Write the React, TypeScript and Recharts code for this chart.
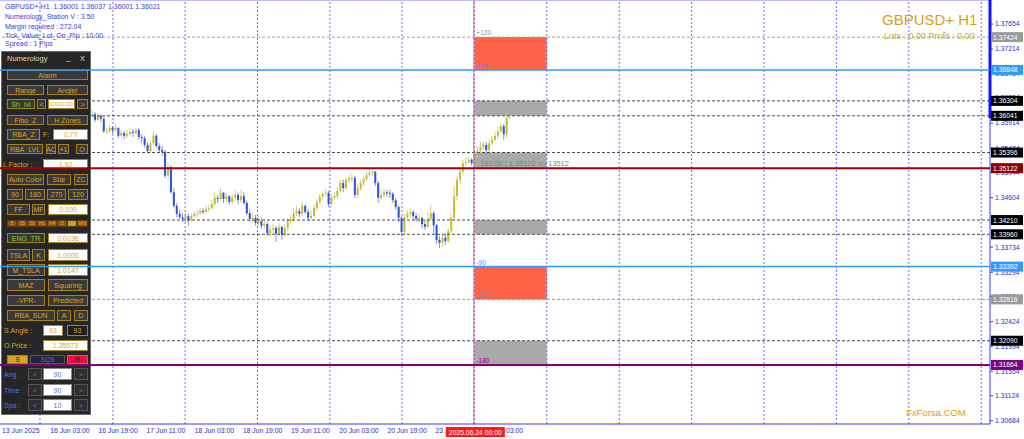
import React from "react";
import {
  ComposedChart,
  Bar,
  XAxis,
  YAxis,
  ReferenceLine,
  ReferenceArea,
  ReferenceDot,
} from "recharts";

const W = 1024;
const H = 439;
const FONT = "'Liberation Sans', Arial, sans-serif";

// x is a bar index (H1 bars), bar 0 = first bar on the left edge
const X_MIN = -0.7;
const X_MAX = 338.4;
const Y_MIN = 1.30627;
const Y_MAX = 1.38076;

// bars left of this one are hidden under the panel
const FIRST_BAR = 31;
const FIRST_OPEN = 1.3604;

const closes = [
  1.3607, 1.3597, 1.3604, 1.3599, 1.3577, 1.3577, 1.3583, 1.3579, 1.3583, 1.3569,
  1.3574, 1.3569, 1.3572, 1.3576, 1.3574, 1.3579, 1.3567, 1.3565, 1.3553, 1.3542,
  1.3556, 1.3569, 1.3551, 1.3544, 1.3541, 1.3499, 1.3514, 1.347, 1.3446, 1.3432,
  1.3426, 1.3423, 1.3428, 1.3421, 1.3428, 1.3432, 1.3433, 1.3437, 1.3435, 1.344,
  1.3442, 1.3449, 1.346, 1.3458, 1.3469, 1.3458, 1.3463, 1.3453, 1.346, 1.3465,
  1.3456, 1.3463, 1.3451, 1.3433, 1.3423, 1.3425, 1.3416, 1.3419, 1.3411, 1.3414,
  1.3398, 1.3404, 1.3407, 1.3397, 1.3409, 1.3395, 1.3407, 1.3419, 1.3423, 1.3433,
  1.3437, 1.3432, 1.3446, 1.3435, 1.3425, 1.3428, 1.3442, 1.3453, 1.3462, 1.3467,
  1.3469, 1.3449, 1.346, 1.3463, 1.3472, 1.3486, 1.3477, 1.3492, 1.3495, 1.3495,
  1.3465, 1.3477, 1.3486, 1.3493, 1.35, 1.3504, 1.3506, 1.3486, 1.346, 1.3465,
  1.347, 1.3469, 1.3467, 1.3456, 1.3444, 1.3425, 1.34, 1.3426, 1.3432, 1.3435,
  1.3428, 1.3423, 1.3425, 1.3414, 1.3409, 1.3423, 1.3433, 1.3412, 1.3386, 1.3381,
  1.339, 1.3384, 1.3402, 1.3425, 1.3463, 1.3492, 1.3506, 1.3521, 1.3523, 1.3527,
  1.3521, 1.3535, 1.3542, 1.3549, 1.3553, 1.3544, 1.3556, 1.3562, 1.3569, 1.3577,
  1.3586, 1.3572, 1.36, 1.36021,
];

const highs = [
  1.3614, 1.3611, 1.3609, 1.3607, 1.3602, 1.3584, 1.3588, 1.3586, 1.359, 1.3584,
  1.3579, 1.3577, 1.3579, 1.3583, 1.3581, 1.3584, 1.3583, 1.3572, 1.3569, 1.3558,
  1.3562, 1.3577, 1.3572, 1.3556, 1.3551, 1.3544, 1.3521, 1.3518, 1.3477, 1.3451,
  1.3439, 1.3433, 1.3433, 1.3432, 1.3433, 1.3437, 1.3439, 1.3442, 1.3442, 1.3446,
  1.3448, 1.3456, 1.3469, 1.3465, 1.3477, 1.347, 1.3469, 1.3465, 1.3467, 1.3474,
  1.347, 1.3474, 1.347, 1.3455, 1.3439, 1.3433, 1.343, 1.3428, 1.3425, 1.3423,
  1.3418, 1.3411, 1.3414, 1.3411, 1.3416, 1.3411, 1.3414, 1.3425, 1.343, 1.3442,
  1.3446, 1.3442, 1.3453, 1.3448, 1.344, 1.3437, 1.3448, 1.3458, 1.3467, 1.3472,
  1.3476, 1.3472, 1.3465, 1.347, 1.3479, 1.3492, 1.3492, 1.3497, 1.35, 1.3504,
  1.3499, 1.3484, 1.3492, 1.3499, 1.3506, 1.3513, 1.3509, 1.3507, 1.349, 1.3472,
  1.3476, 1.3474, 1.3474, 1.347, 1.346, 1.3446, 1.3428, 1.3432, 1.3439, 1.3442,
  1.3439, 1.3433, 1.3432, 1.3426, 1.3421, 1.3435, 1.3448, 1.3437, 1.3414, 1.3393,
  1.3395, 1.3397, 1.3407, 1.3432, 1.3481, 1.3499, 1.3513, 1.3527, 1.3532, 1.3532,
  1.353, 1.3544, 1.3551, 1.3558, 1.356, 1.3558, 1.3562, 1.3569, 1.3576, 1.3584,
  1.3593, 1.359, 1.3604, 1.36037,
];

const lows = [
  1.36, 1.3593, 1.3595, 1.3593, 1.3574, 1.3572, 1.3574, 1.3572, 1.3576, 1.3565,
  1.3567, 1.3563, 1.3565, 1.3569, 1.3567, 1.357, 1.3563, 1.3556, 1.3548, 1.3539,
  1.3539, 1.3553, 1.3548, 1.3539, 1.3534, 1.3495, 1.3493, 1.3467, 1.3442, 1.3426,
  1.3423, 1.3418, 1.3414, 1.3411, 1.3418, 1.3425, 1.3426, 1.343, 1.3432, 1.3432,
  1.3435, 1.3439, 1.3446, 1.3451, 1.3455, 1.3451, 1.3453, 1.3448, 1.3448, 1.3453,
  1.3449, 1.3451, 1.3448, 1.343, 1.3418, 1.3418, 1.3411, 1.3412, 1.3405, 1.3405,
  1.3393, 1.3393, 1.3398, 1.3383, 1.3393, 1.3386, 1.339, 1.3402, 1.3414, 1.3418,
  1.3428, 1.3426, 1.3428, 1.3432, 1.3419, 1.3421, 1.3425, 1.3437, 1.3449, 1.3456,
  1.3462, 1.3444, 1.3446, 1.3455, 1.3458, 1.3469, 1.347, 1.3474, 1.3486, 1.3488,
  1.346, 1.346, 1.3472, 1.3481, 1.349, 1.3497, 1.3499, 1.3481, 1.3451, 1.3456,
  1.346, 1.3462, 1.346, 1.3451, 1.3439, 1.3418, 1.3393, 1.3397, 1.3423, 1.3426,
  1.3421, 1.3418, 1.3418, 1.3407, 1.3404, 1.3407, 1.3419, 1.3397, 1.3379, 1.3372,
  1.3374, 1.3377, 1.3381, 1.3398, 1.3421, 1.3456, 1.3484, 1.35, 1.3516, 1.352,
  1.3516, 1.3514, 1.353, 1.3539, 1.3544, 1.3535, 1.3541, 1.3553, 1.356, 1.3563,
  1.3574, 1.3562, 1.3565, 1.36001,
];

// label positions on the bar scale
const timeTicks = [0, 16.5, 33, 49.5, 66, 82.5, 99, 115.5, 132, 148.5, 165];
const timeLabels = [
  "13 Jun 2025",
  "16 Jun 03:00",
  "16 Jun 19:00",
  "17 Jun 11:00",
  "18 Jun 03:00",
  "18 Jun 19:00",
  "19 Jun 11:00",
  "20 Jun 03:00",
  "20 Jun 19:00",
  "23 Jun 11:00",
  "24 Jun 03:00",
];

const priceTicks = [
  1.37654, 1.37214, 1.36784, 1.36354, 1.35914, 1.35474, 1.35044, 1.34604, 1.34174,
  1.33734, 1.33294, 1.32864, 1.32424, 1.31994, 1.31554, 1.31124, 1.30684,
];

const gridBars = [13, 38, 62.7, 87.5, 112.3, 137, 161.8, 186.6, 211.4, 236.2, 261, 285.8, 310.6, 335.4];

const MARK_BAR = 161.6;
const MARK_LABEL = "2025.06.24 00:00";
const ZONE_FROM = 161.8;
const ZONE_TO = 186.6;

const darkLevels = [1.36304, 1.36041, 1.35396, 1.3421, 1.3396, 1.3209];
const grayLevels = [1.37424, 1.32816];
const blueLevels = [1.36848, 1.33392];
const redLevel = 1.35122;
const purpleLevel = 1.31664;

const redZones = [
  [1.37424, 1.36848],
  [1.33392, 1.32816],
];
const grayZones = [
  [1.36304, 1.36041],
  [1.35396, 1.35122],
  [1.3421, 1.3396],
  [1.3209, 1.31664],
];

const zoneTags: [string, number, string][] = [
  ["+120", 1.37424, "#8c8c8c"],
  ["+90", 1.36848, "#3399ff"],
  ["-90", 1.33392, "#3399ff"],
  ["-120", 1.32816, "#8c8c8c"],
  ["-180", 1.31664, "#800080"],
];
const zoneInfo = "192.00 | 1.35122 >> 13512";

const infoLines = [
  "GBPUSD+,H1  1.36001 1.36037 1.36001 1.36021",
  "Numerology_Station V : 3.50",
  "Margin required : 272.04",
  "Tick_Value_Lot_On_Pip : 10.00",
  "Spread : 1 Pips",
];

const candles = closes.map((close, k) => ({
  bar: FIRST_BAR + k,
  open: k === 0 ? FIRST_OPEN : closes[k - 1],
  high: highs[k],
  low: lows[k],
  close,
}));

const AXIS_BLUE = "#3b3bff";
const TEXT_BLUE = "#2b2bd6";

function Candle(props: any) {
  const { x, y, width, height, payload } = props;
  if (!payload) return null;
  const { open, close, high, low } = payload;
  const up = close >= open;
  const k = height / (high - low);
  const top = y + (high - Math.max(open, close)) * k;
  const bot = y + (high - Math.min(open, close)) * k;
  const cx = x + width / 2;
  return (
    <g>
      <line x1={cx} x2={cx} y1={y} y2={y + height} stroke={up ? "#d2cb86" : "#8b8bea"} strokeWidth={1} />
      <rect x={x} y={top} width={width} height={Math.max(bot - top, 1)} fill={up ? "#c4bd2b" : "#2356d8"} />
    </g>
  );
}

function TimeTick(props: any) {
  const { x, y, payload } = props;
  const i = timeTicks.indexOf(payload.value);
  return (
    <text x={x} y={y + 5} fontSize={6.8} fontFamily={FONT} fill={TEXT_BLUE} textAnchor="start">
      {timeLabels[i]}
    </text>
  );
}

function PriceTag(props: any) {
  const { viewBox, bg, price } = props;
  if (!viewBox) return null;
  const x = viewBox.x + viewBox.width + 1;
  const y = viewBox.y;
  return (
    <g>
      <rect x={x} y={y - 5} width={32} height={10} fill={bg} />
      <text x={x + 2} y={y + 2.5} fontSize={6.8} fontFamily={FONT} fill="#ffffff">
        {price.toFixed(5)}
      </text>
    </g>
  );
}

function TimeTag(props: any) {
  const { viewBox } = props;
  if (!viewBox) return null;
  const x = viewBox.x;
  const y = viewBox.y + viewBox.height + 3;
  return (
    <g>
      <rect x={x - 28} y={y} width={59} height={10} fill="#ff1a1a" />
      <text x={x + 1.5} y={y + 7.5} fontSize={6.8} fontFamily={FONT} fill="#ffffff" textAnchor="middle">
        {MARK_LABEL}
      </text>
    </g>
  );
}

function ZoneText(props: any) {
  const { viewBox, text, color, size } = props;
  if (!viewBox) return null;
  return (
    <text x={viewBox.x + 2} y={viewBox.y - 2} fontSize={size || 6.5} fontFamily={FONT} fill={color}>
      {text}
    </text>
  );
}

function axes(show: boolean) {
  return [
    <XAxis
      key="x"
      type="number"
      dataKey="bar"
      domain={[X_MIN, X_MAX]}
      allowDataOverflow
      ticks={timeTicks}
      interval={0}
      height={15}
      tickSize={2}
      axisLine={show ? { stroke: AXIS_BLUE } : false}
      tickLine={false}
      tick={show ? <TimeTick /> : false}
    />,
    <YAxis
      key="y"
      orientation="right"
      type="number"
      domain={[Y_MIN, Y_MAX]}
      allowDataOverflow
      ticks={priceTicks}
      interval={0}
      width={34}
      tickSize={3}
      axisLine={show ? { stroke: AXIS_BLUE } : false}
      tickLine={show ? { stroke: AXIS_BLUE } : false}
      tick={show ? { fontSize: 6.8, fill: TEXT_BLUE, fontFamily: FONT } : false}
      tickFormatter={(v: number) => v.toFixed(5)}
    />,
  ];
}

const MARGIN = { top: 0, right: 0, bottom: 0, left: 0 };

function BaseChart() {
  return (
    <ComposedChart width={W} height={H} data={candles} margin={MARGIN}>
      {axes(true)}
      {gridBars.map((b) => (
        <ReferenceLine key={"g" + b} x={b} stroke="#6a6aff" strokeDasharray="2 2" />
      ))}
      {redZones.map(([a, b]) => (
        <ReferenceArea key={"r" + a} x1={ZONE_FROM} x2={ZONE_TO} y1={b} y2={a} fill="#ff6347" fillOpacity={1} stroke="none" />
      ))}
      {grayZones.map(([a, b]) => (
        <ReferenceArea key={"z" + a} x1={ZONE_FROM} x2={ZONE_TO} y1={b} y2={a} fill="#a9a9a9" fillOpacity={1} stroke="none" />
      ))}
      {darkLevels.map((p) => (
        <ReferenceLine key={"d" + p} y={p} stroke="#4a4a4a" strokeDasharray="3 2" />
      ))}
      {grayLevels.map((p) => (
        <ReferenceLine key={"l" + p} y={p} stroke="#a0a0a0" strokeDasharray="3 2" />
      ))}
      <ReferenceLine x={MARK_BAR} stroke="#ff5c5c" strokeWidth={1} />
      <ReferenceLine y={Y_MAX} stroke="#8080ff" />
      {zoneTags.map(([t, p, c]) => (
        <ReferenceDot key={t} x={ZONE_FROM} y={p} r={0} fill="none" stroke="none" label={<ZoneText text={t} color={c} />} />
      ))}
      <ReferenceDot
        x={ZONE_FROM + 1.3}
        y={redLevel}
        r={0}
        fill="none"
        stroke="none"
        label={<ZoneText text={zoneInfo} color="#5f9a5f" size={7.4} />}
      />
      <Bar
        dataKey={(d: any) => [d.low, d.high]}
        barSize={2}
        shape={<Candle />}
        isAnimationActive={false}
      />
    </ComposedChart>
  );
}

function OverlayChart() {
  return (
    <ComposedChart width={W} height={H} data={candles} margin={MARGIN}>
      {axes(false)}
      <ReferenceLine
        segment={[
          { x: X_MAX, y: Y_MAX },
          { x: X_MAX, y: 1.36 },
        ]}
        stroke="#1414ff"
        strokeWidth={3}
      />
      {blueLevels.map((p) => (
        <ReferenceLine key={"b" + p} y={p} stroke="#3399ff" strokeWidth={1.5} label={<PriceTag bg="#3399ff" price={p} />} />
      ))}
      <ReferenceLine y={redLevel} stroke="#a00000" strokeWidth={2} label={<PriceTag bg="#8b0000" price={redLevel} />} />
      <ReferenceLine y={purpleLevel} stroke="#800080" strokeWidth={2} label={<PriceTag bg="#800080" price={purpleLevel} />} />
      {darkLevels.map((p) => (
        <ReferenceLine key={"dt" + p} y={p} stroke="none" label={<PriceTag bg="#000000" price={p} />} />
      ))}
      {grayLevels.map((p) => (
        <ReferenceLine key={"gt" + p} y={p} stroke="none" label={<PriceTag bg="#9a9a9a" price={p} />} />
      ))}
      <ReferenceLine x={MARK_BAR} stroke="none" label={<TimeTag />} />
    </ComposedChart>
  );
}

type Cell = [number, number, string, string];
const panelRows: [number, number, Cell[]][] = [
  [70, 10, [[7, 81, "Alarm", "btn"]]],
  [85, 10, [[7, 37, "Range", "btn"], [47, 41, "Angler", "btn"]]],
  [99, 10, [[7, 28, "Sh_lvl", "grn"], [37, 9, "<", "btn"], [48, 27, "10000.000", "tiny"], [77, 11, ">", "btn"]]],
  [115, 10, [[7, 37, "Fibo_Z", "btn"], [47, 41, "H Zones", "btn"]]],
  [129, 11, [[7, 33, "RBA_Z", "btn"], [43, 9, "F:", "lbl"], [53, 35, "0.77", "inp"]]],
  [144, 10, [[7, 36, "RBA_LVL", "btn"], [46, 10, "AC", "btn"], [58, 11, "+1", "btn"], [76, 12, "O", "btn"]]],
  [159, 10, [[3, 39, "L.Factor :", "lbl"], [43, 45, "1.92", "inp"]]],
  [174, 11, [[7, 37, "Auto Color", "btn"], [47, 24, "Star", "btn"], [74, 14, "ZC", "btn"]]],
  [189, 11, [[7, 16, "90", "btn"], [25, 20, "180", "btn"], [47, 19, "270", "btn"], [68, 20, "120", "btn"]]],
  [204, 11, [[7, 23, "FF", "btn"], [32, 13, "MF", "btn"], [48, 40, "0.100", "inp"]]],
  [
    220,
    7,
    [
      [7, 10, "5", "tf"],
      [17, 10, "15", "tf"],
      [27, 10, "30", "tf"],
      [37, 10, "H1", "tf"],
      [47, 10, "H4", "tf"],
      [57, 10, "D", "tf"],
      [67, 10, "W", "tfw"],
      [77, 11, "MN", "tf"],
    ],
  ],
  [233, 10, [[7, 38, "ENG_TR", "grn"], [48, 40, "0.0036", "inp"]]],
  [249, 12, [[7, 23, "TSLA", "btn"], [32, 13, "K", "btn"], [48, 40, "1.0000", "inp"]]],
  [264, 12, [[7, 38, "M_TSLA", "btn"], [48, 40, "1.0147", "inp"]]],
  [279, 12, [[7, 38, "MAZ", "btn"], [48, 40, "Squaring", "btn"]]],
  [295, 11, [[7, 38, "-VPR-", "btn"], [48, 40, "Predicted", "btn"]]],
  [310, 11, [[7, 48, "RBA_SUN", "btn"], [57, 14, "A", "btn"], [74, 14, "D", "btn"]]],
  [325, 11, [[4, 38, "S.Angle :", "lbl"], [43, 20, "93", "inp"], [67, 21, "93", "dark"]]],
  [340, 11, [[4, 38, "O.Price :", "lbl"], [43, 45, "1.35573", "inp"]]],
  [355, 9, [[7, 21, "S", "gold"], [30, 35, "SQ9", "sq9"], [67, 21, "R", "red"]]],
  [368, 12, [[4, 23, "Ang :", "blbl"], [28, 14, "<", "arr"], [43, 29, "90", "binp"], [74, 14, ">", "arr"]]],
  [384, 12, [[4, 23, "Time :", "blbl"], [28, 14, "<", "arr"], [43, 29, "90", "binp"], [74, 14, ">", "arr"]]],
  [399, 12, [[4, 23, "Spa :", "blbl"], [28, 14, "<", "arr"], [43, 29, "10", "binp"], [74, 14, ">", "arr"]]],
];

const GOLD = "#d9a520";
const cellStyles: Record<string, React.CSSProperties> = {
  btn: { background: "#3a3a3a", border: "1px solid #a8801c", color: GOLD },
  grn: { background: "#3a3a2c", border: "1px solid #a8801c", color: "#7ccd3c" },
  inp: { background: "#ffffff", border: "1px solid #a8801c", color: GOLD },
  tiny: { background: "#ffffff", border: "1px solid #a8801c", color: GOLD, fontSize: 5 },
  lbl: { color: GOLD, justifyContent: "flex-start" },
  dark: { background: "#1e1e1e", border: "1px solid #a8801c", color: GOLD },
  gold: { background: GOLD, border: "1px solid #a8801c", color: "#222" },
  sq9: { background: "#262633", border: "1px solid #555", color: "#4a6ee8" },
  red: { background: "#e3123e", border: "1px solid #a8801c", color: "#222" },
  arr: { background: "#2e2e2e", border: "1px solid #555", color: "#4a6ee8" },
  binp: { background: "#ffffff", border: "1px solid #888", color: "#4a6ee8" },
  blbl: { color: "#4a6ee8", justifyContent: "flex-start" },
  tf: { background: "#8a5214", border: "1px solid #5a3a10", color: "#ffa500", fontSize: 5 },
  tfw: { background: "#a7a43a", border: "1px solid #5a3a10", color: "#ffa500", fontSize: 5 },
};

function Panel() {
  return (
    <div
      style={{
        position: "absolute",
        left: 1,
        top: 51,
        width: 90,
        height: 364,
        background: "#262626",
        border: "1px solid #6a6a6a",
        boxSizing: "border-box",
      }}
    >
      <div style={{ position: "absolute", left: 5, top: 2, fontSize: 7.5, color: "#e6d3a0" }}>Numerology</div>
      <div style={{ position: "absolute", left: 64, top: 1, fontSize: 8, color: "#ddd" }}>_</div>
      <div style={{ position: "absolute", left: 78, top: 2, fontSize: 7.5, color: "#ddd" }}>X</div>
      {panelRows.map(([top, h, cells]) =>
        cells.map(([left, w, text, kind], j) => (
          <div
            key={top + "-" + j}
            style={{
              position: "absolute",
              left: left - 2,
              top: top - 52,
              width: w,
              height: h,
              boxSizing: "border-box",
              display: "flex",
              alignItems: "center",
              justifyContent: "center",
              fontSize: 7,
              lineHeight: 1,
              whiteSpace: "nowrap",
              overflow: "hidden",
              ...cellStyles[kind],
            }}
          >
            {text}
          </div>
        ))
      )}
    </div>
  );
}

function Labels() {
  const lineTops = [3, 13, 23, 32, 40];
  return (
    <>
      {infoLines.map((t, i) => (
        <div
          key={i}
          style={{ position: "absolute", left: 5, top: lineTops[i], fontSize: 7, color: "#3c3ce0", whiteSpace: "pre" }}
        >
          {t}
        </div>
      ))}
      <div style={{ position: "absolute", left: 882, top: 11, fontSize: 15, color: "#d4a020", whiteSpace: "nowrap" }}>
        GBPUSD+ H1
      </div>
      <div style={{ position: "absolute", left: 884, top: 31, fontSize: 9, color: "#c9a44a", whiteSpace: "nowrap" }}>
        Lots : 0.00 Profit : 0.00
      </div>
      <div style={{ position: "absolute", left: 906, top: 407, fontSize: 9.5, color: "#d4a020", whiteSpace: "nowrap" }}>
        FxForsa.COM
      </div>
    </>
  );
}

export default function App() {
  return (
    <div style={{ position: "relative", width: W, height: H, background: "#fff", overflow: "hidden", fontFamily: FONT }}>
      <style>{"body{margin:0}"}</style>
      <div style={{ position: "absolute", left: 0, top: 0 }}>
        <BaseChart />
      </div>
      <Labels />
      <Panel />
      <div style={{ position: "absolute", left: 0, top: 0, pointerEvents: "none" }}>
        <OverlayChart />
      </div>
    </div>
  );
}
